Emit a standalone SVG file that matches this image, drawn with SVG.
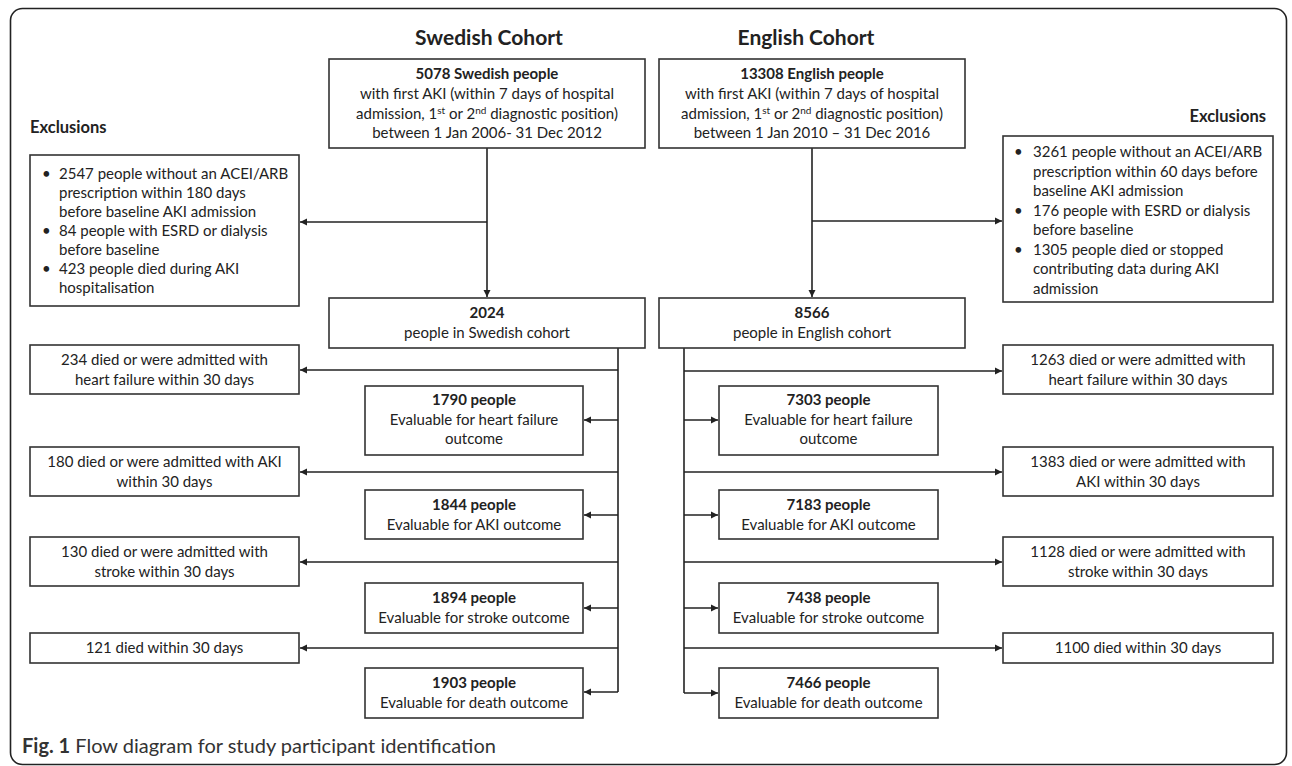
<svg xmlns="http://www.w3.org/2000/svg" width="1292" height="766" viewBox="0 0 1292 766">
<style>
  .frame{fill:none;stroke:#222;stroke-width:1.6}
  .box{fill:#fff;stroke:#333;stroke-width:1.6}
  .t{font-family:Lato,"Liberation Sans",sans-serif;font-size:15px;fill:#222}
  .c{text-anchor:middle}
  .b{font-weight:bold}
  .title{font-family:Lato,"Liberation Sans",sans-serif;font-size:21px;font-weight:bold;fill:#222;text-anchor:middle}
  .hdr{font-family:Lato,"Liberation Sans",sans-serif;font-size:16.5px;font-weight:bold;fill:#222}
  .cap{font-family:Lato,"Liberation Sans",sans-serif;font-size:20px;fill:#333}
  .ln{fill:none;stroke:#222;stroke-width:1.6}
  .sup{font-size:10px}
</style>
<defs>
  <marker id="ah" markerWidth="8" markerHeight="8" refX="7" refY="4" orient="auto" markerUnits="userSpaceOnUse">
    <path d="M0,0.5 L7,4 L0,7.5 z" fill="#222"/>
  </marker>
</defs>

<rect class="frame" x="10.5" y="8.5" width="1276" height="756" rx="12"/>

<text class="title" x="489" y="45">Swedish Cohort</text>
<text class="title" x="806" y="45">English Cohort</text>
<text class="hdr" x="30" y="133">Exclusions</text>
<text class="hdr" x="1266" y="122" text-anchor="end">Exclusions</text>

<g id="connectors">
  <path class="ln" d="M487,148 V297" marker-end="url(#ah)"/>
  <path class="ln" d="M487,222 H300" marker-end="url(#ah)"/>
  <path class="ln" d="M618,348 V692"/>
  <path class="ln" d="M618,370 H300" marker-end="url(#ah)"/>
  <path class="ln" d="M618,420 H584" marker-end="url(#ah)"/>
  <path class="ln" d="M618,472 H300" marker-end="url(#ah)"/>
  <path class="ln" d="M618,515 H584" marker-end="url(#ah)"/>
  <path class="ln" d="M618,562 H300" marker-end="url(#ah)"/>
  <path class="ln" d="M618,608 H584" marker-end="url(#ah)"/>
  <path class="ln" d="M618,648 H300" marker-end="url(#ah)"/>
  <path class="ln" d="M618,692 H584" marker-end="url(#ah)"/>

  <path class="ln" d="M812,148 V297" marker-end="url(#ah)"/>
  <path class="ln" d="M812,221 H1002" marker-end="url(#ah)"/>
  <path class="ln" d="M684,348 V693"/>
  <path class="ln" d="M684,371 H1002" marker-end="url(#ah)"/>
  <path class="ln" d="M684,420 H718" marker-end="url(#ah)"/>
  <path class="ln" d="M684,472 H1002" marker-end="url(#ah)"/>
  <path class="ln" d="M684,515 H718" marker-end="url(#ah)"/>
  <path class="ln" d="M684,562 H1002" marker-end="url(#ah)"/>
  <path class="ln" d="M684,608 H718" marker-end="url(#ah)"/>
  <path class="ln" d="M684,648 H1002" marker-end="url(#ah)"/>
  <path class="ln" d="M684,693 H718" marker-end="url(#ah)"/>
</g>

<g id="swe-start">
  <rect class="box" x="329" y="59" width="316" height="89"/>
  <text class="t c b" x="487" y="79">5078 Swedish people</text>
  <text class="t c" x="487" y="99">with first AKI (within 7 days of hospital</text>
  <text class="t c" x="487" y="119">admission, 1<tspan class="sup" dy="-5">st</tspan><tspan dy="5"> or 2</tspan><tspan class="sup" dy="-5">nd</tspan><tspan dy="5"> diagnostic position)</tspan></text>
  <text class="t c" x="487" y="138">between 1 Jan 2006- 31 Dec 2012</text>
</g>

<g id="eng-start">
  <rect class="box" x="659" y="59" width="306" height="89"/>
  <text class="t c b" x="812" y="79">13308 English people</text>
  <text class="t c" x="812" y="99">with first AKI (within 7 days of hospital</text>
  <text class="t c" x="812" y="119">admission, 1<tspan class="sup" dy="-5">st</tspan><tspan dy="5"> or 2</tspan><tspan class="sup" dy="-5">nd</tspan><tspan dy="5"> diagnostic position)</tspan></text>
  <text class="t c" x="812" y="138">between 1 Jan 2010 – 31 Dec 2016</text>
</g>

<g id="swe-excl">
  <rect class="box" x="30" y="155" width="269" height="151"/>
  <text class="t" x="42" y="178.5">•</text>
  <text class="t" x="59" y="178.5">2547 people without an ACEI/ARB</text>
  <text class="t" x="59" y="197.5">prescription within 180 days</text>
  <text class="t" x="59" y="216.5">before baseline AKI admission</text>
  <text class="t" x="42" y="235.5">•</text>
  <text class="t" x="59" y="235.5">84 people with ESRD or dialysis</text>
  <text class="t" x="59" y="254.5">before baseline</text>
  <text class="t" x="42" y="273.5">•</text>
  <text class="t" x="59" y="273.5">423 people died during AKI</text>
  <text class="t" x="59" y="292.5">hospitalisation</text>
</g>

<g id="eng-excl">
  <rect class="box" x="1003" y="136" width="270" height="166"/>
  <text class="t" x="1014" y="157">•</text>
  <text class="t" x="1033" y="157">3261 people without an ACEI/ARB</text>
  <text class="t" x="1033" y="176.5">prescription within 60 days before</text>
  <text class="t" x="1033" y="196">baseline AKI admission</text>
  <text class="t" x="1014" y="215.5">•</text>
  <text class="t" x="1033" y="215.5">176 people with ESRD or dialysis</text>
  <text class="t" x="1033" y="235">before baseline</text>
  <text class="t" x="1014" y="254.5">•</text>
  <text class="t" x="1033" y="254.5">1305 people died or stopped</text>
  <text class="t" x="1033" y="274">contributing data during AKI</text>
  <text class="t" x="1033" y="293.5">admission</text>
</g>

<g id="swe-cohort">
  <rect class="box" x="329" y="298" width="316" height="50"/>
  <text class="t c b" x="487" y="318">2024</text>
  <text class="t c" x="487" y="338">people in Swedish cohort</text>
</g>
<g id="eng-cohort">
  <rect class="box" x="659" y="298" width="306" height="50"/>
  <text class="t c b" x="812" y="318">8566</text>
  <text class="t c" x="812" y="338">people in English cohort</text>
</g>

<g id="swe-hf-excl">
  <rect class="box" x="30" y="345" width="269" height="49"/>
  <text class="t c" x="164.5" y="365">234 died or were admitted with</text>
  <text class="t c" x="164.5" y="385">heart failure within 30 days</text>
</g>
<g id="swe-hf">
  <rect class="box" x="365" y="386" width="218" height="69"/>
  <text class="t c b" x="474" y="405">1790 people</text>
  <text class="t c" x="474" y="425">Evaluable for heart failure</text>
  <text class="t c" x="474" y="444">outcome</text>
</g>
<g id="swe-aki-excl">
  <rect class="box" x="30" y="447" width="269" height="49"/>
  <text class="t c" x="164.5" y="467">180 died or were admitted with AKI</text>
  <text class="t c" x="164.5" y="487">within 30 days</text>
</g>
<g id="swe-aki">
  <rect class="box" x="365" y="490" width="218" height="49"/>
  <text class="t c b" x="474" y="510">1844 people</text>
  <text class="t c" x="474" y="530">Evaluable for AKI outcome</text>
</g>
<g id="swe-stroke-excl">
  <rect class="box" x="30" y="537" width="269" height="49"/>
  <text class="t c" x="164.5" y="557">130 died or were admitted with</text>
  <text class="t c" x="164.5" y="577">stroke within 30 days</text>
</g>
<g id="swe-stroke">
  <rect class="box" x="365" y="583" width="218" height="50"/>
  <text class="t c b" x="474" y="603">1894 people</text>
  <text class="t c" x="474" y="623">Evaluable for stroke outcome</text>
</g>
<g id="swe-death-excl">
  <rect class="box" x="30" y="633" width="269" height="30"/>
  <text class="t c" x="164.5" y="653">121 died within 30 days</text>
</g>
<g id="swe-death">
  <rect class="box" x="365" y="668" width="218" height="50"/>
  <text class="t c b" x="474" y="688">1903 people</text>
  <text class="t c" x="474" y="708">Evaluable for death outcome</text>
</g>

<g id="eng-hf-excl">
  <rect class="box" x="1003" y="345" width="270" height="49"/>
  <text class="t c" x="1138" y="365">1263 died or were admitted with</text>
  <text class="t c" x="1138" y="385">heart failure within 30 days</text>
</g>
<g id="eng-hf">
  <rect class="box" x="719" y="386" width="219" height="69"/>
  <text class="t c b" x="828.5" y="405">7303 people</text>
  <text class="t c" x="828.5" y="425">Evaluable for heart failure</text>
  <text class="t c" x="828.5" y="444">outcome</text>
</g>
<g id="eng-aki-excl">
  <rect class="box" x="1003" y="447" width="270" height="49"/>
  <text class="t c" x="1138" y="467">1383 died or were admitted with</text>
  <text class="t c" x="1138" y="487">AKI within 30 days</text>
</g>
<g id="eng-aki">
  <rect class="box" x="719" y="490" width="219" height="49"/>
  <text class="t c b" x="828.5" y="510">7183 people</text>
  <text class="t c" x="828.5" y="530">Evaluable for AKI outcome</text>
</g>
<g id="eng-stroke-excl">
  <rect class="box" x="1003" y="537" width="270" height="49"/>
  <text class="t c" x="1138" y="557">1128 died or were admitted with</text>
  <text class="t c" x="1138" y="577">stroke within 30 days</text>
</g>
<g id="eng-stroke">
  <rect class="box" x="719" y="583" width="219" height="50"/>
  <text class="t c b" x="828.5" y="603">7438 people</text>
  <text class="t c" x="828.5" y="623">Evaluable for stroke outcome</text>
</g>
<g id="eng-death-excl">
  <rect class="box" x="1003" y="633" width="270" height="30"/>
  <text class="t c" x="1138" y="653">1100 died within 30 days</text>
</g>
<g id="eng-death">
  <rect class="box" x="719" y="668" width="219" height="50"/>
  <text class="t c b" x="828.5" y="688">7466 people</text>
  <text class="t c" x="828.5" y="708">Evaluable for death outcome</text>
</g>

<text class="cap" x="22" y="753"><tspan font-weight="bold">Fig. 1</tspan> Flow diagram for study participant identification</text>
</svg>
